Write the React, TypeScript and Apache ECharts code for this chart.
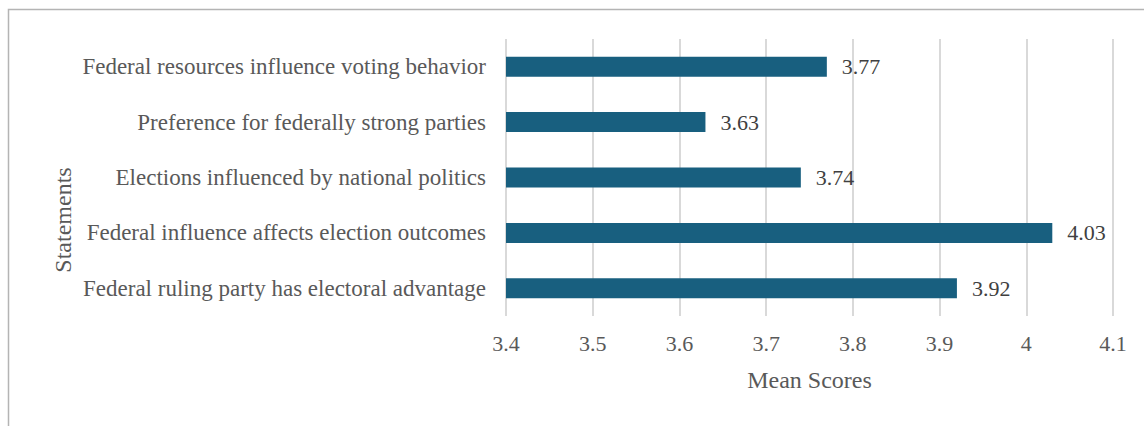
import React, { useEffect, useRef } from "react";
import * as echarts from "echarts";

const categories = [
  "Federal resources influence voting behavior",
  "Preference for federally strong parties",
  "Elections influenced by national politics",
  "Federal influence affects election outcomes",
  "Federal ruling party has electoral advantage",
];
const meanScores = [3.77, 3.63, 3.74, 4.03, 3.92];
const xMin = 3.4;
const xMax = 4.1;
const xStep = 0.1;
const xAxisTitle = "Mean Scores";
const yAxisTitle = "Statements";

const FONT = "'Liberation Serif', 'Times New Roman', serif";

export default function App() {
  const ref = useRef<HTMLDivElement>(null);
  useEffect(() => {
    if (!ref.current) return;
    const chart = echarts.init(ref.current, null, { renderer: "svg" });
    chart.setOption({
      animation: false,
      backgroundColor: "#ffffff",
      textStyle: { fontFamily: FONT },
      graphic: [
        {
          type: "rect",
          shape: { x: 8.5, y: 9.5, width: 1200, height: 500 },
          style: { fill: "none", stroke: "#b4b4b4", lineWidth: 1.5 },
          silent: true,
        },
        {
          type: "text",
          x: 63,
          y: 220,
          rotation: Math.PI / 2,
          style: {
            text: yAxisTitle,
            fontFamily: FONT,
            fontSize: 24,
            fill: "#595959",
            align: "center",
            verticalAlign: "middle",
          },
          silent: true,
        },
      ],
      grid: { left: 506, right: 31, top: 39, bottom: 110, containLabel: false },
      xAxis: {
        type: "value",
        min: xMin,
        max: xMax,
        interval: xStep,
        name: xAxisTitle,
        nameLocation: "middle",
        nameGap: 52,
        nameTextStyle: { fontFamily: FONT, fontSize: 24, color: "#595959" },
        axisLine: { show: false },
        axisTick: { show: false },
        axisLabel: {
          fontFamily: FONT,
          fontSize: 22,
          color: "#595959",
          margin: 16,
          formatter: (v: number) => String(Math.round(v * 10) / 10),
        },
        splitLine: { show: true, lineStyle: { color: "#d9d9d9", width: 2 } },
      },
      yAxis: {
        type: "category",
        data: categories,
        inverse: true,
        axisLine: { show: false },
        axisTick: { show: false },
        axisLabel: { fontFamily: FONT, fontSize: 23, color: "#595959", margin: 20 },
        splitLine: { show: false },
      },
      series: [
        {
          type: "bar",
          data: meanScores,
          barWidth: 20,
          itemStyle: { color: "#185f7f" },
          label: {
            show: true,
            position: "right",
            distance: 15,
            fontFamily: FONT,
            fontSize: 22,
            color: "#404040",
            formatter: (p: any) => p.value.toFixed(2),
          },
        },
      ],
    });
    return () => chart.dispose();
  }, []);
  return (
    <div
      ref={ref}
      style={{ position: "absolute", left: 0, top: 0, width: 1144, height: 426 }}
    />
  );
}
